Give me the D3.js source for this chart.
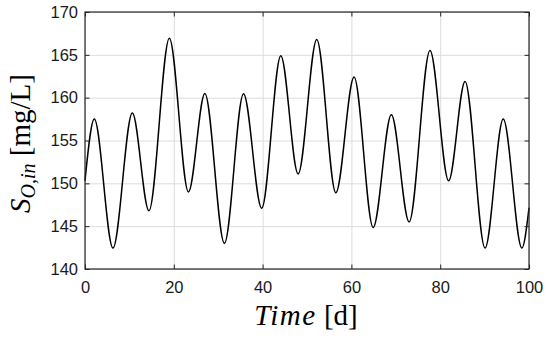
<!DOCTYPE html>
<html>
<head>
<meta charset="utf-8">
<script src="https://cdn.jsdelivr.net/npm/d3@7"></script>
<style>
  body { margin: 0; background: #fff; }
  .grid line { stroke: #dcdcdc; stroke-width: 1; }
  .grid path { display: none; }
</style>
</head>
<body>
<div id="chart"></div>
<script>
// extrema (time in days, S_O,in in mg/L)
const times = [0, 2.1, 6.3, 10.66, 14.4, 19.0, 23.3, 27.0, 31.4, 35.7, 39.8, 44.1, 48.0,
               52.2, 56.5, 60.6, 64.9, 69.0, 73.0, 77.7, 81.9, 85.6, 90.1, 94.2, 98.4, 100];
const values = [150.3, 157.5, 142.45, 158.2, 146.8, 166.95, 149.0, 160.5, 143.0, 160.45, 147.1, 164.9, 151.1,
                166.8, 148.9, 162.4, 144.85, 158.0, 145.5, 165.5, 150.3, 161.9, 142.45, 157.5, 142.45, 147.15];
const xTicks = [0, 20, 40, 60, 80, 100];
const yTicks = [140, 145, 150, 155, 160, 165, 170];

const width = 550;
const height = 339;
const margin = {top: 12, right: 21, bottom: 70, left: 85};

const svg = d3.select("#chart")
    .append("svg")
    .attr("width", width)
    .attr("height", height);

const x = d3.scaleLinear()
    .domain([0, 100])
    .range([margin.left, width - margin.right]);

const y = d3.scaleLinear()
    .domain([140, 170])
    .range([height - margin.bottom, margin.top]);

const innerW = width - margin.left - margin.right;
const innerH = height - margin.top - margin.bottom;

// grid
svg.append("g")
    .attr("class", "grid")
    .attr("transform", `translate(0,${height - margin.bottom})`)
    .call(d3.axisBottom(x).tickValues(xTicks).tickSize(-innerH).tickFormat(""));

svg.append("g")
    .attr("class", "grid")
    .attr("transform", `translate(${margin.left},0)`)
    .call(d3.axisLeft(y).tickValues(yTicks).tickSize(-innerW).tickFormat(""));

// line
const points = times.map((t, i) => [t, values[i]]);
const line = d3.line()
    .x(d => x(d[0]))
    .y(d => y(d[1]))
    .curve(d3.curveMonotoneX);

svg.append("path")
    .datum(points)
    .attr("fill", "none")
    .attr("stroke", "#000")
    .attr("stroke-width", 1.5)
    .attr("d", line);

// axes, ticks inside on all four sides
const axisColor = "#262626";
const styleAxis = g => {
    g.attr("font-family", "'Liberation Sans', Arial, sans-serif").attr("font-size", 16.5);
    g.select(".domain").remove();
    g.selectAll(".tick line").attr("stroke", axisColor);
    g.selectAll(".tick text").attr("fill", "#1a1a1a");
};

svg.append("g")
    .attr("transform", `translate(0,${height - margin.bottom})`)
    .call(d3.axisBottom(x).tickValues(xTicks).tickSizeInner(-4.5).tickSizeOuter(0).tickPadding(12))
    .call(styleAxis);

svg.append("g")
    .attr("transform", `translate(0,${margin.top})`)
    .call(d3.axisTop(x).tickValues(xTicks).tickSizeInner(-4.5).tickSizeOuter(0).tickFormat(""))
    .call(styleAxis);

svg.append("g")
    .attr("transform", `translate(${margin.left},0)`)
    .call(d3.axisLeft(y).tickValues(yTicks).tickSizeInner(-4.5).tickSizeOuter(0).tickPadding(7))
    .call(styleAxis);

svg.append("g")
    .attr("transform", `translate(${width - margin.right},0)`)
    .call(d3.axisRight(y).tickValues(yTicks).tickSizeInner(-4.5).tickSizeOuter(0).tickFormat(""))
    .call(styleAxis);

// box
svg.append("rect")
    .attr("x", margin.left)
    .attr("y", margin.top)
    .attr("width", innerW)
    .attr("height", innerH)
    .attr("fill", "none")
    .attr("stroke", axisColor)
    .attr("stroke-width", 1.2);

const serif = "'Liberation Serif', 'Times New Roman', serif";

// x label
const xl = svg.append("text")
    .attr("x", margin.left + innerW / 2 - 1)
    .attr("y", 325)
    .attr("text-anchor", "middle")
    .attr("font-family", serif)
    .attr("font-size", 29);
xl.append("tspan").attr("font-style", "italic").attr("letter-spacing", 1.5).text("Time");
xl.append("tspan").text(" [d]");

// y label
const yl = svg.append("text")
    .attr("transform", `translate(30,${margin.top + innerH / 2 + 3}) rotate(-90)`)
    .attr("text-anchor", "middle")
    .attr("font-family", serif)
    .attr("font-size", 29);
yl.append("tspan").attr("font-style", "italic").text("S");
yl.append("tspan").attr("font-style", "italic").attr("font-size", 20).attr("dy", 5).text("O,in");
yl.append("tspan").attr("dy", -5).text(" [mg/L]");
</script>
</body>
</html>
